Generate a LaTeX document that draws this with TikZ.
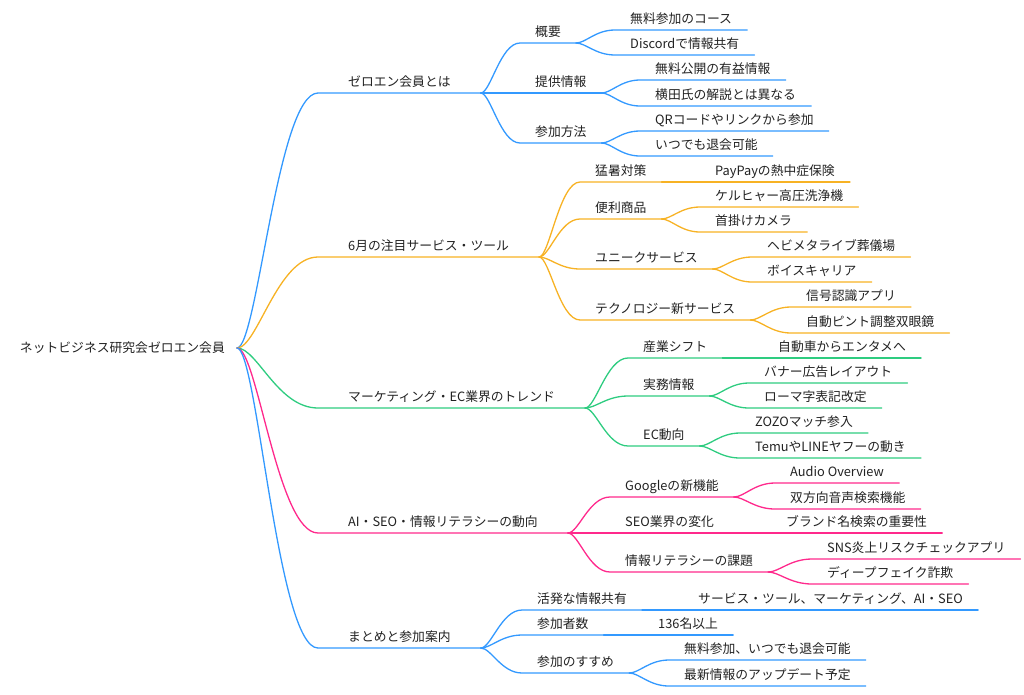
\documentclass[tikz,border=0pt]{standalone}
\usepackage{fontspec}
\setmainfont{Noto Sans CJK JP}
\usetikzlibrary{calc}
\definecolor{MapBlue}{RGB}{51,153,255}
\definecolor{MapOrange}{RGB}{247,178,36}
\definecolor{MapGreen}{RGB}{46,204,128}
\definecolor{MapPink}{RGB}{255,41,140}
\definecolor{MapText}{RGB}{34,34,34}
\tikzset{
  branch/.style={to path={let \p1=(\tikztostart), \p2=(\tikztotarget) in
    .. controls ({\x1+0.25*(\x2-\x1)},\y1) and ({0.5*(\x1+\x2)},\y2) .. (\tikztotarget)}},
  topic/.style={anchor=south west, inner xsep=15pt, inner ysep=6pt, text depth=0pt,
    font=\fontsize{12.8}{14}\selectfont, text=MapText},
  maintopic/.style={topic, inner xsep=30pt},
  link/.style={line width=1.3pt, line cap=round},
}

\begin{document}
\begin{tikzpicture}[x=1pt, y=-1pt]
    \useasboundingbox (0,0) rectangle (1024,694);

    % root
    \node[anchor=east, inner xsep=12pt, font=\fontsize{12.8}{14}\selectfont, text=MapText]
      (root) at (237,348) {ネットビジネス研究会ゼロエン会員};

    % main topics
    \node[maintopic] (zero)   at (318,93)  {ゼロエン会員とは};
    \node[maintopic] (june)   at (318,257) {6月の注目サービス・ツール};
    \node[maintopic] (trend)  at (318,408) {マーケティング・EC業界のトレンド};
    \node[maintopic] (ai)     at (318,533) {AI・SEO・情報リテラシーの動向};
    \node[maintopic] (matome) at (318,648) {まとめと参加案内};

    % ゼロエン会員とは
    \node[topic] (gaiyo)    at (520,43)  {概要};
    \node[topic] (teikyo)   at (520,93)  {提供情報};
    \node[topic] (hoho)     at (520,143) {参加方法};
    \node[topic] (course)   at (615,30)  {無料参加のコース};
    \node[topic] (discord)  at (615,55)  {Discordで情報共有};
    \node[topic] (yueki)    at (640,80)  {無料公開の有益情報};
    \node[topic] (kaisetsu) at (640,106) {横田氏の解説とは異なる};
    \node[topic] (qr)       at (640,131) {QRコードやリンクから参加};
    \node[topic] (taikai)   at (640,156) {いつでも退会可能};

    % 6月の注目サービス・ツール
    \node[topic] (mosho)    at (580,182) {猛暑対策};
    \node[topic] (benri)    at (580,219) {便利商品};
    \node[topic] (unique)   at (580,269) {ユニークサービス};
    \node[topic] (tech)     at (580,320) {テクノロジー新サービス};
    \node[topic] (paypay)   at (700,182) {PayPayの熱中症保険};
    \node[topic] (karcher)  at (700,207) {ケルヒャー高圧洗浄機};
    \node[topic] (camera)   at (700,232) {首掛けカメラ};
    \node[topic] (hebimeta) at (752,257) {ヘビメタライブ葬儀場};
    \node[topic] (voice)    at (752,282) {ボイスキャリア};
    \node[topic] (shingo)   at (791,307) {信号認識アプリ};
    \node[topic] (sogan)    at (791,333) {自動ピント調整双眼鏡};

    % マーケティング・EC業界のトレンド
    \node[topic] (shift)    at (628,358) {産業シフト};
    \node[topic] (jitsumu)  at (628,396) {実務情報};
    \node[topic] (ecdoko)   at (628,446) {EC動向};
    \node[topic] (entame)   at (763,358) {自動車からエンタメへ};
    \node[topic] (banner)   at (749,383) {バナー広告レイアウト};
    \node[topic] (roma)     at (749,408) {ローマ字表記改定};
    \node[topic] (zozo)     at (740,433) {ZOZOマッチ参入};
    \node[topic] (temu)     at (740,458) {TemuやLINEヤフーの動き};

    % AI・SEO・情報リテラシーの動向
    \node[topic] (google)   at (610,497) {Googleの新機能};
    \node[topic] (seo)      at (610,533) {SEO業界の変化};
    \node[topic] (literacy) at (610,572) {情報リテラシーの課題};
    \node[topic] (audio)    at (775,483) {Audio Overview};
    \node[topic] (onsei)    at (775,509) {双方向音声検索機能};
    \node[topic] (brand)    at (771,533) {ブランド名検索の重要性};
    \node[topic] (sns)      at (812,559) {SNS炎上リスクチェックアプリ};
    \node[topic] (deepfake) at (812,584) {ディープフェイク詐欺};

    % まとめと参加案内
    \node[topic] (kappatsu) at (522,610) {活発な情報共有};
    \node[topic] (ninzu)    at (522,635) {参加者数};
    \node[topic] (susume)   at (522,673) {参加のすすめ};
    \node[topic] (kyoyu)    at (683,610) {サービス・ツール、マーケティング、AI・SEO};
    \node[topic] (over)     at (643,635) {136名以上};
    \node[topic] (muryo)    at (669,660) {無料参加、いつでも退会可能};
    \node[topic] (update)   at (669,686) {最新情報のアップデート予定};

    % connectors
    \draw[link, MapBlue]   (root.east) to[branch] (zero.south west) -- (zero.south east);
    \draw[link, MapOrange] (root.east) to[branch] (june.south west) -- (june.south east);
    \draw[link, MapGreen]  (root.east) to[branch] (trend.south west) -- (trend.south east);
    \draw[link, MapPink]   (root.east) to[branch] (ai.south west) -- (ai.south east);
    \draw[link, MapBlue]   (root.east) to[branch] (matome.south west) -- (matome.south east);

    \foreach \a/\b in {zero/gaiyo, zero/teikyo, zero/hoho, gaiyo/course, gaiyo/discord,
                       teikyo/yueki, teikyo/kaisetsu, hoho/qr, hoho/taikai,
                       matome/kappatsu, matome/ninzu, matome/susume, kappatsu/kyoyu,
                       ninzu/over, susume/muryo, susume/update}
      \draw[link, MapBlue] (\a.south east) to[branch] (\b.south west) -- (\b.south east);

    \foreach \a/\b in {june/mosho, june/benri, june/unique, june/tech, mosho/paypay,
                       benri/karcher, benri/camera, unique/hebimeta, unique/voice,
                       tech/shingo, tech/sogan}
      \draw[link, MapOrange] (\a.south east) to[branch] (\b.south west) -- (\b.south east);

    \foreach \a/\b in {trend/shift, trend/jitsumu, trend/ecdoko, shift/entame,
                       jitsumu/banner, jitsumu/roma, ecdoko/zozo, ecdoko/temu}
      \draw[link, MapGreen] (\a.south east) to[branch] (\b.south west) -- (\b.south east);

    \foreach \a/\b in {ai/google, ai/seo, ai/literacy, google/audio, google/onsei,
                       seo/brand, literacy/sns, literacy/deepfake}
      \draw[link, MapPink] (\a.south east) to[branch] (\b.south west) -- (\b.south east);
  \end{tikzpicture}
\end{document}
